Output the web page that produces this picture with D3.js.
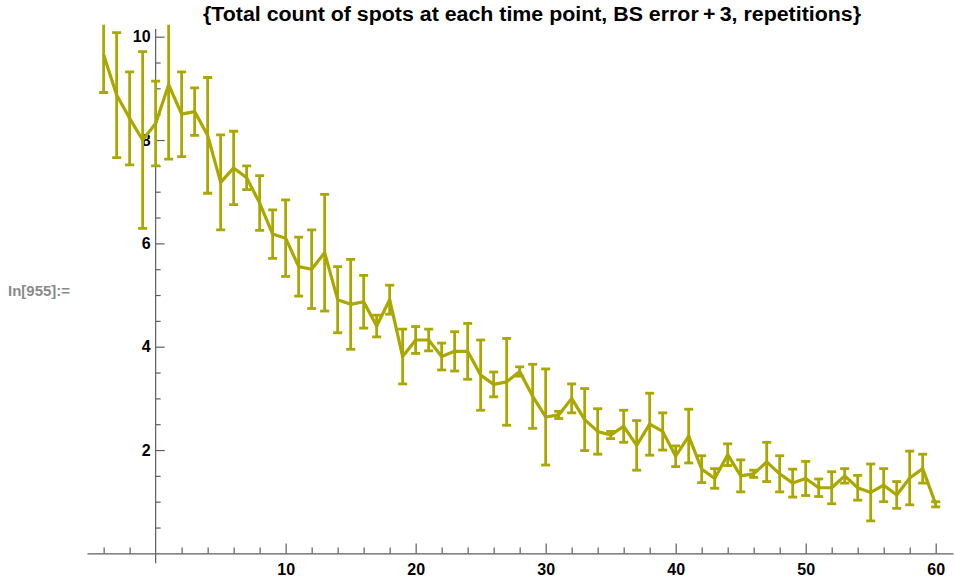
<!DOCTYPE html>
<html>
<head>
<meta charset="utf-8">
<script src="https://cdn.jsdelivr.net/npm/d3@7"></script>
<style>
  html, body { margin: 0; padding: 0; background: #fff; }
  svg { display: block; }
</style>
</head>
<body>
<svg id="chart" width="955" height="586"></svg>
<script>
// ---- data ----
const timePoints = d3.range(-4, 61);
const meanValues = [
  9.65, 8.87, 8.42, 8.00, 8.32, 9.07, 8.50, 8.55, 8.09, 7.18,
  7.46, 7.27, 6.78, 6.18, 6.10, 5.55, 5.50, 5.82, 4.91, 4.82,
  4.87, 4.40, 4.91, 3.81, 4.13, 4.13, 3.81, 3.91, 3.91, 3.45,
  3.27, 3.32, 3.52, 3.04, 2.64, 2.68, 3.00, 2.59, 2.36, 2.29,
  2.46, 2.09, 2.50, 2.36, 1.88, 2.27, 1.63, 1.45, 1.91, 1.50,
  1.54, 1.77, 1.54, 1.36, 1.45, 1.27, 1.27, 1.50, 1.27, 1.18,
  1.32, 1.13, 1.46, 1.64, 0.95
];
const errorValues = [
  0.73, 1.21, 0.90, 1.71, 0.82, 1.44, 0.82, 0.46, 1.12, 0.92,
  0.71, 0.23, 0.53, 0.47, 0.74, 0.57, 0.76, 1.13, 0.64, 0.87,
  0.51, 0.21, 0.28, 0.53, 0.26, 0.21, 0.26, 0.38, 0.54, 0.68,
  0.24, 0.84, 0.09, 0.62, 0.93, 0.07, 0.28, 0.60, 0.44, 0.07,
  0.31, 0.48, 0.60, 0.36, 0.20, 0.52, 0.26, 0.19, 0.21, 0.31,
  0.07, 0.38, 0.35, 0.27, 0.33, 0.17, 0.31, 0.14, 0.24, 0.55,
  0.32, 0.26, 0.52, 0.28, 0.05
];
const xMajorTicks = [10, 20, 30, 40, 50, 60];
const xMinorTicks = [-4, -2, 2, 4, 6, 8, 12, 14, 16, 18, 22, 24, 26, 28, 32, 34, 36, 38, 42, 44, 46, 48, 52, 54, 56, 58];
const yMajorTicks = [2, 4, 6, 8, 10];
const yMinorTicks = [0.5, 1, 1.5, 2.5, 3, 3.5, 4.5, 5, 5.5, 6.5, 7, 7.5, 8.5, 9, 9.5];
const titleText = "{Total count of spots at each time point, BS error\u2009+\u20093, repetitions}";
const inLabel = "In[955]:=";

const points = timePoints.map((t, i) => ({ t, v: meanValues[i], e: errorValues[i] }));

// ---- scales ----
const x = d3.scaleLinear().domain([-5.28, 61.33]).range([87, 953]);
const y = d3.scaleLinear().domain([-0.19, 10.23]).range([563.2, 24.8]);

const svg = d3.select("#chart");
const axisColor = "#5e5e5e";
const dataColor = "#a9a700";
const fontFam = "'Liberation Sans', Arial, Helvetica, sans-serif";

// title
svg.append("text")
  .attr("x", 532).attr("y", 21)
  .attr("text-anchor", "middle")
  .attr("font-family", fontFam)
  .attr("font-weight", "bold")
  .attr("font-size", 19.5)
  .attr("textLength", 658)
  .attr("lengthAdjust", "spacingAndGlyphs")
  .attr("fill", "#000")
  .text(titleText);

// In[] label
svg.append("text")
  .attr("x", 8).attr("y", 296)
  .attr("font-family", fontFam)
  .attr("font-weight", "bold")
  .attr("font-size", 15)
  .attr("fill", "#8a8a8a")
  .text(inLabel);

// ---- axes ----
const gx = svg.append("g").attr("transform", `translate(0,${y(0)})`);
gx.call(d3.axisBottom(x).tickValues(xMajorTicks).tickSizeInner(-10).tickSizeOuter(0).tickPadding(10).tickFormat(d3.format("d")));
const gxm = svg.append("g").attr("transform", `translate(0,${y(0)})`);
gxm.call(d3.axisBottom(x).tickValues(xMinorTicks).tickSizeInner(-6).tickSizeOuter(0).tickFormat(""));
gxm.select(".domain").remove();

const gy = svg.append("g").attr("transform", `translate(${x(0)},0)`);
gy.call(d3.axisLeft(y).tickValues(yMajorTicks).tickSizeInner(-9).tickSizeOuter(0).tickPadding(5).tickFormat(d3.format("d")));
const gym = svg.append("g").attr("transform", `translate(${x(0)},0)`);
gym.call(d3.axisLeft(y).tickValues(yMinorTicks).tickSizeInner(-5).tickSizeOuter(0).tickFormat(""));
gym.select(".domain").remove();

[gx, gxm, gy, gym].forEach(g => {
  g.selectAll("line").attr("stroke", axisColor).attr("stroke-width", 1.2);
  g.selectAll(".domain").attr("stroke", axisColor).attr("stroke-width", 1.2);
  g.selectAll("text")
    .attr("font-family", fontFam)
    .attr("font-weight", "bold")
    .attr("font-size", 16)
    .attr("fill", "#000");
});
gy.select(".domain").attr("d", `M0,${y(-0.19)}V${y(10.15)}`);

// ---- data ----
svg.append("defs").append("clipPath").attr("id", "plotclip")
  .append("rect").attr("x", 80).attr("y", y(10.23)).attr("width", 880).attr("height", 560);

const plot = svg.append("g").attr("clip-path", "url(#plotclip)");

const line = d3.line().x(d => x(d.t)).y(d => y(d.v));
plot.append("path")
  .datum(points)
  .attr("fill", "none")
  .attr("stroke", dataColor)
  .attr("stroke-width", 3.2)
  .attr("stroke-linejoin", "round")
  .attr("d", line);

const capHalf = 4.5;
const bars = plot.append("g")
  .attr("stroke", dataColor)
  .attr("stroke-width", 2.8)
  .selectAll("g").data(points).join("g");
bars.append("line")
  .attr("x1", d => x(d.t)).attr("x2", d => x(d.t))
  .attr("y1", d => y(d.v - d.e)).attr("y2", d => y(d.v + d.e));
bars.append("line")
  .attr("x1", d => x(d.t) - capHalf).attr("x2", d => x(d.t) + capHalf)
  .attr("y1", d => y(d.v + d.e)).attr("y2", d => y(d.v + d.e));
bars.append("line")
  .attr("x1", d => x(d.t) - capHalf).attr("x2", d => x(d.t) + capHalf)
  .attr("y1", d => y(d.v - d.e)).attr("y2", d => y(d.v - d.e));
</script>
</body>
</html>
